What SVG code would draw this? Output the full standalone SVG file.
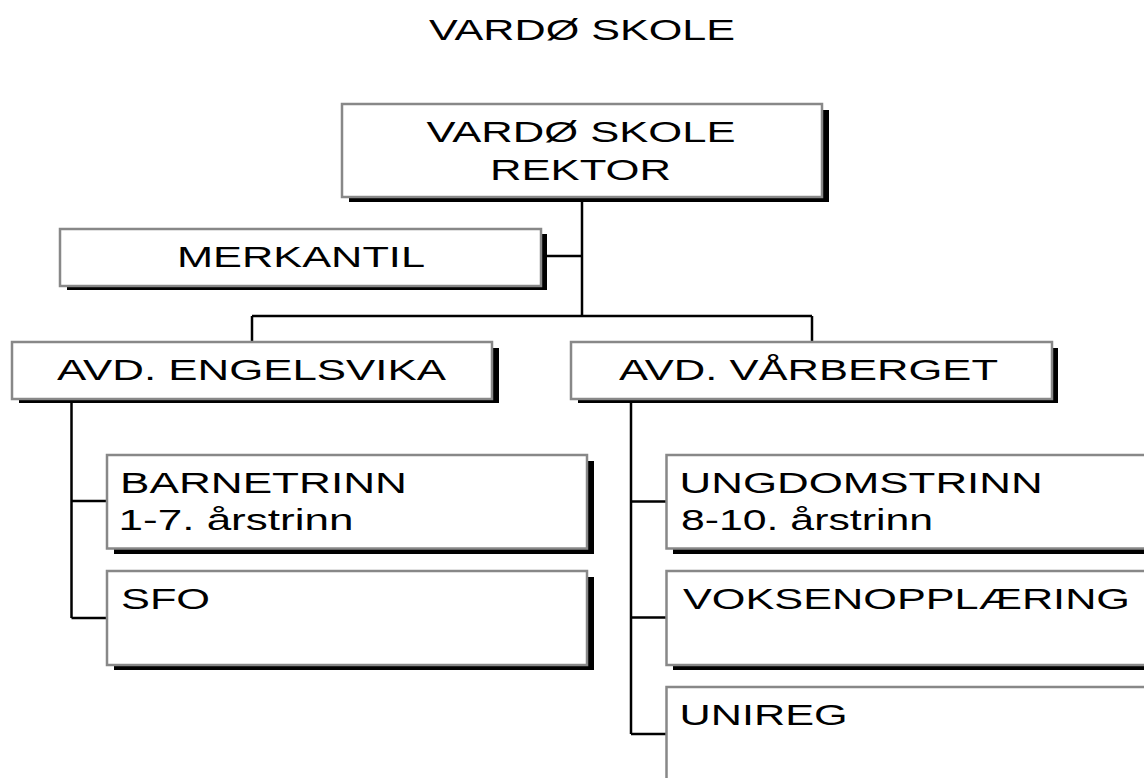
<svg xmlns="http://www.w3.org/2000/svg" width="1144" height="778" viewBox="0 0 1144 778">
<style>
.box{fill:#fff;stroke:#888;stroke-width:2.5}
.sh{fill:#000}
.t{font-family:"Liberation Sans",Arial,sans-serif;font-size:30px;fill:#000}
.c{fill:none;stroke:#000;stroke-width:2.5}
</style>
<rect width="1144" height="778" fill="#fff"/>
<text class="t" x="429" y="39.5" textLength="306" lengthAdjust="spacingAndGlyphs">VARDØ SKOLE</text>
<g id="connectors">
<path class="c" d="M582 197 V316 M547 256 H582 M252 316 H812 M252 316 V342 M812 316 V342"/>
<path class="c" d="M71.5 399 V618 M71.5 501 H107 M71.5 618 H107"/>
<path class="c" d="M631 399 V734 M631 501.5 H667 M631 617.5 H667 M631 734 H667"/>
</g>
<g id="rektor">
<rect class="sh" x="349" y="110" width="480" height="92"/>
<rect class="box" x="342" y="104" width="480" height="93"/>
<text class="t" x="426.5" y="142" textLength="309" lengthAdjust="spacingAndGlyphs">VARDØ SKOLE</text>
<text class="t" x="490" y="179.5" textLength="181" lengthAdjust="spacingAndGlyphs">REKTOR</text>
</g>
<g id="merkantil">
<rect class="sh" x="67" y="234" width="480" height="56"/>
<rect class="box" x="60" y="229" width="481" height="57"/>
<text class="t" x="177" y="267" textLength="248" lengthAdjust="spacingAndGlyphs">MERKANTIL</text>
</g>
<g id="engelsvika">
<rect class="sh" x="19" y="348" width="480" height="55"/>
<rect class="box" x="12" y="342" width="480" height="57"/>
<text class="t" x="57" y="380" textLength="389" lengthAdjust="spacingAndGlyphs">AVD. ENGELSVIKA</text>
</g>
<g id="varberget">
<rect class="sh" x="578" y="348" width="480" height="55"/>
<rect class="box" x="571" y="342" width="481" height="57"/>
<text class="t" x="619" y="380" textLength="379" lengthAdjust="spacingAndGlyphs">AVD. VÅRBERGET</text>
</g>
<g id="barnetrinn">
<rect class="sh" x="114" y="461" width="480" height="93"/>
<rect class="box" x="107" y="455" width="480" height="93.5"/>
<text class="t" x="120" y="493" textLength="287" lengthAdjust="spacingAndGlyphs">BARNETRINN</text>
<text class="t" x="118.5" y="530" textLength="235" lengthAdjust="spacingAndGlyphs">1-7. årstrinn</text>
</g>
<g id="sfo">
<rect class="sh" x="114" y="577" width="480" height="93"/>
<rect class="box" x="107" y="571" width="480" height="94"/>
<text class="t" x="121" y="609" textLength="89" lengthAdjust="spacingAndGlyphs">SFO</text>
</g>
<g id="ungdomstrinn">
<rect class="sh" x="673" y="461" width="480" height="93"/>
<rect class="box" x="666.5" y="455" width="480" height="93.5"/>
<text class="t" x="679.6" y="493" textLength="363" lengthAdjust="spacingAndGlyphs">UNGDOMSTRINN</text>
<text class="t" x="681" y="530" textLength="252" lengthAdjust="spacingAndGlyphs">8-10. årstrinn</text>
</g>
<g id="voksenopplaering">
<rect class="sh" x="673" y="577" width="480" height="93"/>
<rect class="box" x="666.5" y="571" width="480" height="94"/>
<text class="t" x="683" y="608.5" textLength="447" lengthAdjust="spacingAndGlyphs">VOKSENOPPLÆRING</text>
</g>
<g id="unireg">
<rect class="sh" x="673" y="693" width="480" height="93"/>
<rect class="box" x="666.5" y="687" width="480" height="94"/>
<text class="t" x="679.6" y="725" textLength="168" lengthAdjust="spacingAndGlyphs">UNIREG</text>
</g>
</svg>
